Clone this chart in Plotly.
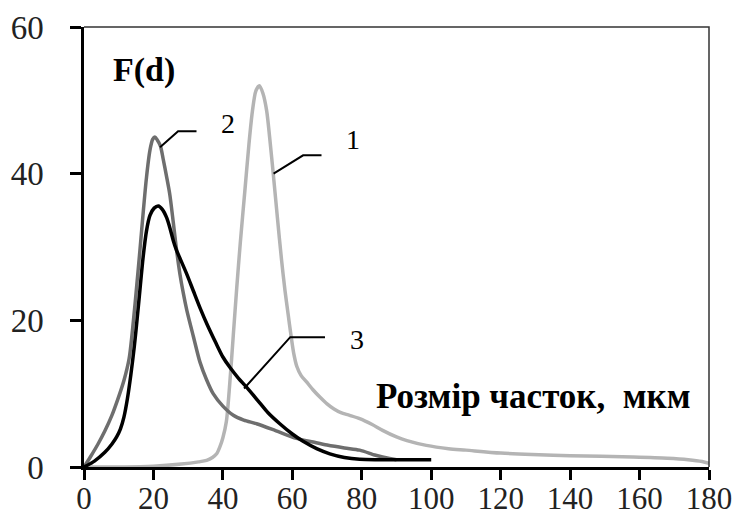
import plotly.graph_objects as go

# Particle size, um (x) and distribution density F(d) (y) for three samples
size_1 = [0, 10, 20, 28, 33, 35.3, 37, 38.2, 39.1, 40, 41, 42, 43, 44, 45, 46.3, 47.5,
          48.5, 49.5, 50.5, 51.5, 52.6, 53.5, 54.5, 55.7, 56.9, 57.9, 58.8, 59.6, 60.4,
          61.3, 62.5, 64.1, 66, 68, 70, 72, 74, 76.5, 79.4, 83, 86, 90, 93, 98.6, 105, 110,
          120, 129, 140, 158, 168, 174, 178, 180]
fd_1 = [0, 0, 0.1, 0.4, 0.7, 0.9, 1.3, 1.8, 2.7, 4, 6.2, 11.5, 18, 24.5, 30.5, 37.5,
        44, 48.5, 51.3, 52, 51, 48.6, 44.8, 40, 34, 28.2, 24, 20.8, 18, 15.5, 13.7, 12.5,
        11.6, 10.5, 9.5, 8.6, 7.9, 7.4, 7.05, 6.6, 5.8, 5.0, 4.1, 3.6, 2.95, 2.5, 2.3,
        1.9, 1.7, 1.55, 1.36, 1.2, 1.0, 0.75, 0.5]

size_2 = [0, 2, 4, 6, 8, 10, 11.5, 13, 14.2, 15.2, 16.1, 17.1, 18, 19, 19.8, 20.4, 21.1,
          22, 22.8, 23.7, 24.7, 25.7, 26.6, 27.6, 28.6, 29.6, 31.5, 33.4, 35.3, 37.2, 40,
          43, 46, 49.7, 55, 61.2, 66, 70, 75, 79.4, 84, 88, 90]
fd_2 = [0, 1.5, 3.1, 4.9, 7, 9.6, 11.8, 14.8, 19.8, 24.8, 29.5, 35, 39.5, 43.2, 44.7, 45,
        44.6, 43.8, 42, 39.8, 37.2, 33.4, 29.8, 26.4, 23.7, 21.4, 17.8, 14.3, 11.9, 10.0,
        8.3, 7.05, 6.4, 5.9, 5.0, 3.9, 3.4, 3.0, 2.6, 2.3, 1.6, 1.15, 1.0]

size_3 = [0, 3, 6, 8, 9.4, 10.5, 11.5, 12.5, 13.5, 14.5, 15.3, 16.1, 17, 18, 19, 20.2,
          21.4, 22.6, 23.8, 24.8, 25.7, 26.6, 27.6, 29.6, 31.5, 33.5, 35.5, 38, 40, 42,
          44.5, 46.8, 50, 53, 56.4, 60, 63.1, 67, 70.8, 75, 79.4, 85, 100]
fd_3 = [0, 0.8, 2, 3.1, 4.1, 5.2, 6.8, 9.3, 12.6, 16.5, 20.2, 24.1, 28.5, 32.2, 34.3,
        35.3, 35.6, 35.1, 34.0, 32.5, 30.9, 29.6, 28.5, 26.3, 24.0, 21.6, 19.4, 16.9,
        15.0, 13.6, 12.1, 10.9, 9.1, 7.4, 5.9, 4.5, 3.5, 2.5, 1.8, 1.3, 1.05, 1.0, 1.0]

series_colors = ["#b4b4b4", "#6e6e6e", "#000000"]

x_ticks = [0, 20, 40, 60, 80, 100, 120, 140, 160, 180]
y_ticks = [0, 20, 40, 60]

# Curve labels with their leader lines (data units)
curve_labels = ["1", "2", "3"]
label_pos = [(77.5, 44.6), (41.5, 46.9), (78.5, 17.4)]
leader_paths = [
    [(54.6, 40.0), (63.1, 42.5), (68.4, 42.5)],
    [(21.9, 43.6), (27.1, 45.8), (32.4, 45.8)],
    [(46.1, 10.7), (59.4, 17.7), (69.4, 17.7)],
]

fig = go.Figure()
for xs, ys, col in [(size_1, fd_1, series_colors[0]),
                    (size_2, fd_2, series_colors[1]),
                    (size_3, fd_3, series_colors[2])]:
    fig.add_trace(go.Scatter(x=xs, y=ys, mode="lines",
                             line=dict(color=col, width=3.5, shape="spline", smoothing=0.8),
                             showlegend=False, hoverinfo="skip"))

serif = "Liberation Serif, Times New Roman, serif"

for path in leader_paths:
    d = "M " + " L ".join(f"{px},{py}" for px, py in path)
    fig.add_shape(type="path", path=d, xref="x", yref="y",
                  line=dict(color="black", width=2))

for txt, (tx, ty) in zip(curve_labels, label_pos):
    fig.add_annotation(x=tx, y=ty, text=txt, showarrow=False,
                       font=dict(family=serif, size=28, color="black"))

fig.add_annotation(x=17.3, y=54.2, text="<b>F(d)</b>", showarrow=False,
                   font=dict(family=serif, size=34, color="black"))
fig.add_annotation(x=129.5, y=9.6, text="<b>Розмір часток,  мкм</b>", showarrow=False,
                   font=dict(family=serif, size=35, color="black"))

# thin frame on the top and right sides of the plot area
fig.add_shape(type="path", path="M 0,1 L 1,1 L 1,0", xref="paper", yref="paper",
              line=dict(color="#333333", width=1.5))

fig.update_xaxes(range=[0, 180], tickvals=x_ticks, showgrid=False, zeroline=False,
                 showline=True, linecolor="black", linewidth=2.5, automargin=False,
                 ticks="outside", ticklen=10, tickwidth=2.5, tickcolor="black",
                 tickfont=dict(family=serif, size=31, color="#222222"),
                 ticklabelstandoff=-8)
fig.update_yaxes(range=[0, 60], tickvals=y_ticks, showgrid=False, zeroline=False,
                 showline=True, linecolor="black", linewidth=2.5, automargin=False,
                 ticks="outside", ticklen=11, tickwidth=2.5, tickcolor="black",
                 tickfont=dict(family=serif, size=33, color="#222222"),
                 ticklabelstandoff=20)

fig.update_layout(width=742, height=519, margin=dict(l=84, r=33, t=27, b=52),
                  plot_bgcolor="white", paper_bgcolor="white")

fig.write_html("out.html")
